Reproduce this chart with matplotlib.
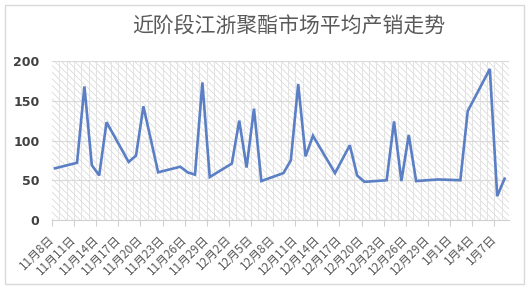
import matplotlib
matplotlib.use("Agg")
import matplotlib.pyplot as plt
from matplotlib.patches import Rectangle
import matplotlib.transforms as mtransforms
import datetime as dt

plt.rcParams['font.family'] = ['Noto Sans CJK SC', 'DejaVu Sans']
plt.rcParams['hatch.linewidth'] = 0.5
plt.rcParams['hatch.color'] = '#D4D4D4'

title = "近阶段江浙聚酯市场平均产销走势"
dates = ["2018-11-08", "2018-11-11", "2018-11-12", "2018-11-13", "2018-11-14", "2018-11-15",
         "2018-11-18", "2018-11-19", "2018-11-20", "2018-11-22", "2018-11-25", "2018-11-26",
         "2018-11-27", "2018-11-28", "2018-11-29", "2018-12-02", "2018-12-03", "2018-12-04",
         "2018-12-05", "2018-12-06", "2018-12-09", "2018-12-10", "2018-12-11", "2018-12-12",
         "2018-12-13", "2018-12-16", "2018-12-18", "2018-12-19", "2018-12-20", "2018-12-23",
         "2018-12-24", "2018-12-25", "2018-12-26", "2018-12-27", "2018-12-30", "2019-01-02",
         "2019-01-03", "2019-01-06", "2019-01-07", "2019-01-08"]
values = [65, 72, 168, 69, 56, 123,
          73, 81, 143, 60, 67, 60,
          57, 173, 54, 71, 125, 66,
          140, 49, 59, 75, 171, 80,
          106, 59, 94, 56, 48, 50,
          124, 49, 107, 49, 51, 50,
          137, 190, 30, 52]
start_date = "2018-11-08"
end_date = "2019-01-09"
tick_step_days = 3
y_ticks = [0, 50, 100, 150, 200]

d0 = dt.date.fromisoformat(start_date)
dend = dt.date.fromisoformat(end_date)
xs = [(dt.date.fromisoformat(d) - d0).days + 0.4 for d in dates]
ndays = (dend - d0).days
tick_pos = list(range(0, ndays - 1, tick_step_days))
tick_labels = []
for p in tick_pos:
    d = d0 + dt.timedelta(days=p)
    tick_labels.append(f"{d.month}月{d.day}日")

W, H = 530, 290
fig = plt.figure(figsize=(W / 100, H / 100), dpi=100)
fig.patch.set_facecolor('white')
fig.patches.append(Rectangle((5 / W, 1 - 284 / H), 519 / W, 279 / H, transform=fig.transFigure,
                             fill=False, edgecolor='#D9D9D9', linewidth=1.0))

ax = fig.add_axes([52 / W, 1 - 220 / H, 457 / W, 159 / H])
ax.set_xlim(0, 62)
ax.set_ylim(0, 200)
ax.add_patch(Rectangle((0, 0), 1, 1, transform=ax.transAxes, facecolor='white',
                       hatch='\\' * 5, edgecolor='#D4D4D4', linewidth=0, zorder=0))
for i in range(1, 62):
    ax.axvline(i, color='#E3E3E3', linewidth=0.7, zorder=0.5)
for yv in y_ticks[1:]:
    ax.axhline(yv, color='#D9D9D9', linewidth=0.8, zorder=0.6)

ax.plot(xs, values, color='#5B7FC4', linewidth=1.9, zorder=3, solid_joinstyle='miter')

for s in ['top', 'right', 'left']:
    ax.spines[s].set_visible(False)
ax.spines['bottom'].set_color('#D0D0D0')
ax.spines['bottom'].set_linewidth(0.8)

ax.set_yticks(y_ticks)
ax.set_yticklabels([str(v) for v in y_ticks], fontsize=9, fontweight='bold',
                   color='#404040', family='DejaVu Sans')
ax.tick_params(axis='y', length=0, pad=9)
ax.set_xticks(tick_pos)
ax.set_xticklabels(tick_labels, rotation=45, ha='right', va='top', fontsize=8.5, color='#595959')
ax.tick_params(axis='x', length=4, color='#D0D0D0', pad=5)
offset = mtransforms.ScaledTranslation(5 / 100, 0, fig.dpi_scale_trans)
for lab in ax.get_xticklabels():
    lab.set_transform(lab.get_transform() + offset)

fig.text(289 / W, 1 - 27 / H, title, ha='center', va='center', fontsize=15,
         color='#595959')

fig.savefig('out.png', dpi=100, facecolor='white')
